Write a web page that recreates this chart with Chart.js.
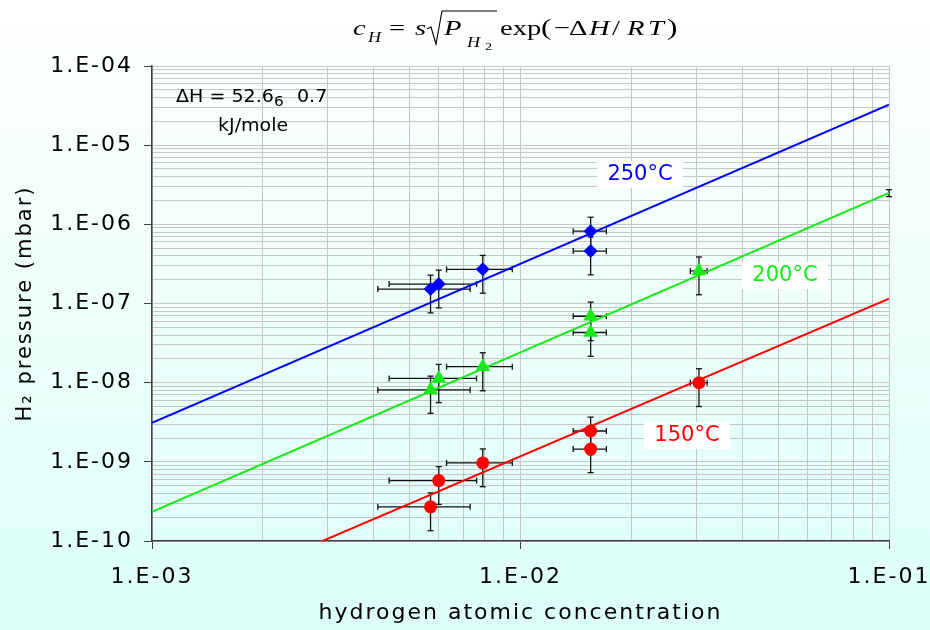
<!DOCTYPE html>
<html><head><meta charset="utf-8">
<script src="https://cdn.jsdelivr.net/npm/chart.js@4.4.1/dist/chart.umd.min.js"></script>
<style>
html,body{margin:0;padding:0;}
body{width:930px;height:630px;overflow:hidden;background:linear-gradient(180deg,#ffffff 0%,#f2fffc 35%,#dcfff8 100%);}
canvas{display:block;}
</style></head><body>
<canvas id="c" width="930" height="630"></canvas>
<script>
// ---- data ----
const blueX    = [0.0057, 0.0060, 0.0079, 0.0155, 0.0155];
const blueY    = [1.52e-7, 1.76e-7, 2.70e-7, 8.2e-7, 4.6e-7];
const blueXErr = [0.0016, 0.0016, 0.0016, 0.0016, 0.0016];
const blueYErr = [0.76e-7, 0.88e-7, 1.35e-7, 4.1e-7, 2.3e-7];

const greenX    = [0.0057, 0.0060, 0.0079, 0.0155, 0.0155, 0.0305];
const greenY    = [8.1e-9, 1.13e-8, 1.59e-8, 6.9e-8, 4.3e-8, 2.58e-7];
const greenXErr = [0.0016, 0.0016, 0.0016, 0.0016, 0.0016, 0.0016];
const greenYErr = [4.0e-9, 5.7e-9, 8.0e-9, 3.5e-8, 2.15e-8, 1.29e-7];

const greenEndX    = [0.1];
const greenEndY    = [2.49e-6];
const greenEndYErr = [0.25e-6];

const redX    = [0.0057, 0.0060, 0.0079, 0.0155, 0.0155, 0.0305];
const redY    = [2.7e-10, 5.8e-10, 9.7e-10, 2.45e-9, 1.45e-9, 1.0e-8];
const redXErr = [0.0016, 0.0016, 0.0016, 0.0016, 0.0016, 0.0016];
const redYErr = [1.35e-10, 2.9e-10, 4.85e-10, 1.22e-9, 0.72e-9, 0.5e-8];

const fitX     = [0.001, 0.1];
const fitBlue  = [3.1e-9, 3.25e-5];
const fitGreen = [2.33e-10, 2.5e-6];
const fitRed   = [1.2e-11, 1.15e-7];

const seriesLabels = ['250°C', '200°C', '150°C'];
const labelX = [0.0211, 0.0522, 0.0283];
const labelY = [4.33e-6, 2.29e-7, 2.18e-9];

const xTitle = 'hydrogen atomic concentration';
const yTitle = 'H\u2082 pressure (mbar)';
const noteLine1a = '\u0394H = 52.6';
const noteLine1b = '6';
const noteLine1c = '0.7';
const noteLine2 = 'kJ/mole';

const xRangeExp = [-3, -1];
const yRangeExp = [-10, -4];

const BLUE = '#0000ff', GREEN = '#14ec14', RED = '#ff0000';

// ---- helpers ----
function logTicks(e0, e1) {
  const t = [];
  for (let e = e0; e < e1; e++) for (let m = 1; m <= 9; m++) t.push({ value: Number((m * Math.pow(10, e)).toPrecision(2)) });
  t.push({ value: Number(Math.pow(10, e1).toPrecision(2)) });
  return t;
}
const isDecade = v => Math.abs(Math.log10(v) - Math.round(Math.log10(v))) < 1e-6;
function fmt(v) {
  if (!isDecade(v)) return '';
  const e = Math.round(Math.log10(v));
  return '1.E' + (e < 0 ? '-' : '+') + String(Math.abs(e)).padStart(2, '0');
}
const pts = (xs, ys) => xs.map((x, i) => ({ x, y: ys[i] }));

const errorSets = [
  { x: blueX, y: blueY, xe: blueXErr, ye: blueYErr },
  { x: greenX, y: greenY, xe: greenXErr, ye: greenYErr },
  { x: greenEndX, y: greenEndY, xe: null, ye: greenEndYErr },
  { x: redX, y: redY, xe: redXErr, ye: redYErr },
];

const spacing = {
  id: 'spacing',
  beforeUpdate(chart) { chart.ctx.letterSpacing = '2px'; },
  beforeDraw(chart) { chart.ctx.letterSpacing = '2px'; }
};

const errorBars = {
  id: 'errorBars',
  beforeDatasetsDraw(chart) {
    const { ctx, scales: { x, y } } = chart;
    ctx.save();
    ctx.strokeStyle = '#111';
    ctx.lineWidth = 1.3;
    const cap = 3;
    const line = (a, b, c, d) => { ctx.beginPath(); ctx.moveTo(a, b); ctx.lineTo(c, d); ctx.stroke(); };
    for (const s of errorSets) {
      for (let i = 0; i < s.x.length; i++) {
        const px = x.getPixelForValue(s.x[i]);
        const py = y.getPixelForValue(s.y[i]);
        if (s.xe) {
          const x1 = x.getPixelForValue(s.x[i] - s.xe[i]);
          const x2 = x.getPixelForValue(s.x[i] + s.xe[i]);
          line(x1, py, x2, py);
          line(x1, py - cap, x1, py + cap);
          line(x2, py - cap, x2, py + cap);
        }
        const y1 = y.getPixelForValue(s.y[i] + s.ye[i]);
        const y2 = y.getPixelForValue(s.y[i] - s.ye[i]);
        line(px, y1, px, y2);
        line(px - cap, y1, px + cap, y1);
        line(px - cap, y2, px + cap, y2);
      }
    }
    ctx.restore();
  }
};

const annotations = {
  id: 'annotations',
  afterDatasetsDraw(chart) {
    const { ctx, scales: { x, y } } = chart;
    ctx.save();
    ctx.letterSpacing = '0px';
    ctx.font = '21px "DejaVu Sans"';
    ctx.textAlign = 'center';
    ctx.textBaseline = 'middle';
    const cols = [BLUE, GREEN, RED];
    for (let i = 0; i < seriesLabels.length; i++) {
      const px = x.getPixelForValue(labelX[i]);
      const py = y.getPixelForValue(labelY[i]);
      ctx.fillStyle = '#ffffff';
      ctx.fillRect(px - 43, py - 13, 86, 27);
      ctx.fillStyle = cols[i];
      ctx.fillText(seriesLabels[i], px, py + 1);
    }
    ctx.fillStyle = '#000';
    ctx.textAlign = 'left';
    ctx.textBaseline = 'alphabetic';
    const draw = (t, px, py, size, sx) => {
      ctx.save(); ctx.translate(px, py); ctx.scale(sx, 1);
      ctx.font = size + 'px "DejaVu Sans"'; ctx.fillText(t, 0, 0); ctx.restore();
    };
    draw(noteLine1a, 176, 102, 17, 1.12);
    draw(noteLine1b, 274, 106, 14, 1.1);
    draw(noteLine1c, 297, 102, 17, 1.12);
    draw(noteLine2, 218, 131, 17, 1.12);
    ctx.restore();
  }
};

const formula = {
  id: 'formula',
  afterDraw(chart) {
    const ctx = chart.ctx;
    ctx.save();
    ctx.letterSpacing = '0px';
    ctx.fillStyle = '#000';
    ctx.strokeStyle = '#000';
    ctx.textBaseline = 'alphabetic';
    ctx.textAlign = 'left';
    const B = 35, SX = 1.3;
    const pieces = [
      ['c', 353, 0, 22, true], ['H', 368, 7, 14, true], ['=', 389, 0, 22, false],
      ['s', 415, 0, 22, true], ['P', 444, 0, 22, true], ['H', 467, 12, 14, true],
      ['2', 485, 15, 11, false], ['exp', 500, 0, 22, false], ['(', 541, 0, 24, false],
      ['\u2212', 554, 0, 22, false], ['\u0394', 569, 0, 22, false], ['H', 589, 0, 22, true],
      ['/', 612, 0, 22, false], ['R', 627, 0, 22, true], ['T', 648, 0, 22, true], [')', 667, 0, 24, false]
    ];
    for (const [t, px, dy, size, it] of pieces) {
      ctx.save();
      ctx.translate(px, B + dy);
      ctx.scale(SX, 1);
      ctx.font = (it ? 'italic ' : '') + size + 'px "Liberation Serif"';
      ctx.fillText(t, 0, 0);
      ctx.restore();
    }
    ctx.lineWidth = 1.1;
    ctx.beginPath();
    ctx.moveTo(427, 29); ctx.lineTo(431, 27); ctx.lineTo(436, 44); ctx.lineTo(442, 11); ctx.lineTo(497, 11);
    ctx.stroke();
    ctx.restore();
  }
};

const axisFont = { family: 'DejaVu Sans', size: 22 };
const tickColor = c => (c.tick && isDecade(c.tick.value)) ? '#404040' : 'rgba(0,0,0,0)';

new Chart(document.getElementById('c'), {
  data: {
    datasets: [
      { type: 'scatter', data: pts(blueX, blueY), pointStyle: 'rectRot', pointRadius: 7, backgroundColor: BLUE, borderColor: BLUE, borderWidth: 0 },
      { type: 'scatter', data: pts(greenX, greenY), pointStyle: 'triangle', pointRadius: 8.5, backgroundColor: GREEN, borderColor: GREEN, borderWidth: 0 },
      { type: 'scatter', data: pts(redX, redY), pointStyle: 'circle', pointRadius: 6.5, backgroundColor: RED, borderColor: RED, borderWidth: 0 },
      { type: 'line', data: pts(fitX, fitBlue), borderColor: BLUE, borderWidth: 2, pointRadius: 0, fill: false },
      { type: 'line', data: pts(fitX, fitGreen), borderColor: GREEN, borderWidth: 2, pointRadius: 0, fill: false },
      { type: 'line', data: pts(fitX, fitRed), borderColor: RED, borderWidth: 2, pointRadius: 0, fill: false }
    ]
  },
  options: {
    responsive: false,
    animation: false,
    events: [],
    layout: { padding: { top: 66, right: 41, left: 0, bottom: 0 } },
    plugins: { legend: { display: false }, tooltip: { enabled: false }, title: { display: false } },
    scales: {
      x: {
        type: 'logarithmic', position: 'bottom',
        min: Math.pow(10, xRangeExp[0]), max: Math.pow(10, xRangeExp[1]),
        afterBuildTicks: s => { s.ticks = logTicks(xRangeExp[0], xRangeExp[1]); },
        afterFit: s => { s.height = 89; s.paddingLeft = 0; s.paddingRight = 0; },
        ticks: { autoSkip: false, maxRotation: 0, minRotation: 0, padding: 15, color: '#000', font: axisFont, callback: v => fmt(v) },
        grid: { color: '#c6c6c6', lineWidth: 1, tickLength: 8, tickColor: tickColor },
        border: { color: '#404040', width: 1.5 },
        title: { display: true, text: xTitle, color: '#000', font: axisFont, padding: { top: 0, bottom: 4 } }
      },
      y: {
        type: 'logarithmic', position: 'left',
        min: Math.pow(10, yRangeExp[0]), max: Math.pow(10, yRangeExp[1]),
        afterBuildTicks: s => { s.ticks = logTicks(yRangeExp[0], yRangeExp[1]); },
        afterFit: s => { s.width = 152; s.paddingTop = 0; s.paddingBottom = 0; },
        ticks: { autoSkip: false, padding: 11, color: '#000', font: axisFont, callback: v => fmt(v) },
        grid: { color: '#c6c6c6', lineWidth: 1, tickLength: 8, tickColor: tickColor },
        border: { color: '#404040', width: 1.5 },
        title: { display: true, text: yTitle, color: '#000', font: { family: 'DejaVu Sans', size: 21 }, padding: { top: 13, bottom: 0 } }
      }
    }
  },
  plugins: [spacing, errorBars, annotations, formula]
});
</script>
</body></html>
